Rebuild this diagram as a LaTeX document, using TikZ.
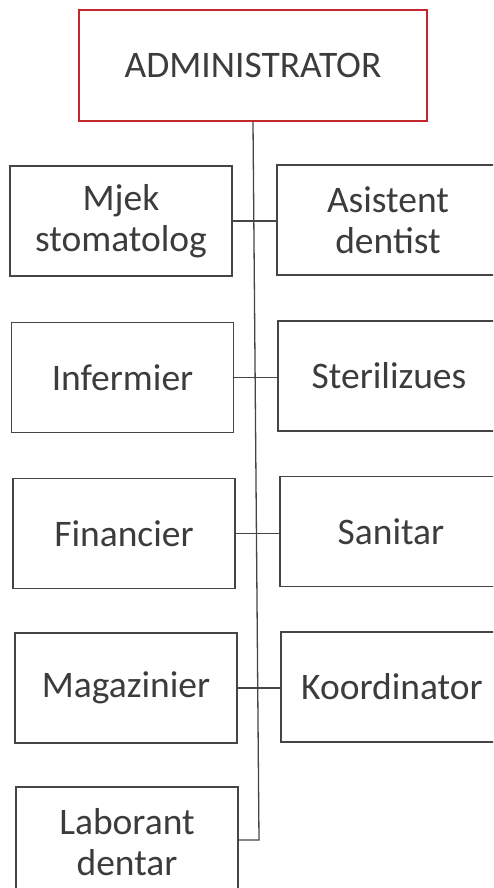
\documentclass[tikz,border=0pt]{standalone}
\usepackage{fontspec}
\setmainfont{Carlito}
\definecolor{txt}{HTML}{3C3C3C}
\definecolor{ln}{HTML}{454545}
\definecolor{redline}{HTML}{C4262E}
\begin{document}
\begin{tikzpicture}[x=1pt,y=-1pt,
  role/.style={draw=ln,line width=1.3pt,minimum width=222pt,minimum height=110pt,
    inner sep=0pt,align=center,text=txt,font=\fontsize{37.5}{41}\selectfont},
  boss/.style={role,draw=redline,line width=2.2pt,minimum width=348pt,minimum height=111pt},
  conn/.style={draw=ln,line width=1.3pt}]
\useasboundingbox (0,0) rectangle (493,888);
\clip (0,0) rectangle (493,888);
\node[boss] (adm) at (253,65.5) {ADMINISTRATOR};
\node[role] (mjek) at (121,221) {Mjek\\stomatolog};
\node[role] (asis) at (388,220) {Asistent\\dentist};
\node[role] (inf) at (122.5,377.5) {Infermier};
\node[role] (ster) at (389,376) {Sterilizues};
\node[role] (fin) at (124,533.5) {Financier};
\node[role] (san) at (391,531.5) {Sanitar};
\node[role] (mag) at (126,688) {Magazinier};
\node[role] (koo) at (392,687) {Koordinator};
\node[role] (lab) at (127,842) {Laborant\\dentar};
\coordinate (bot) at (259,840);
\draw[conn] (adm.south) -- (bot) -- (bot -| lab.east);
\draw[conn] (mjek.east) -- (mjek.east -| asis.west);
\draw[conn] (inf.east) -- (inf.east -| ster.west);
\draw[conn] (fin.east) -- (fin.east -| san.west);
\draw[conn] (mag.east) -- (mag.east -| koo.west);
\end{tikzpicture}
\end{document}
